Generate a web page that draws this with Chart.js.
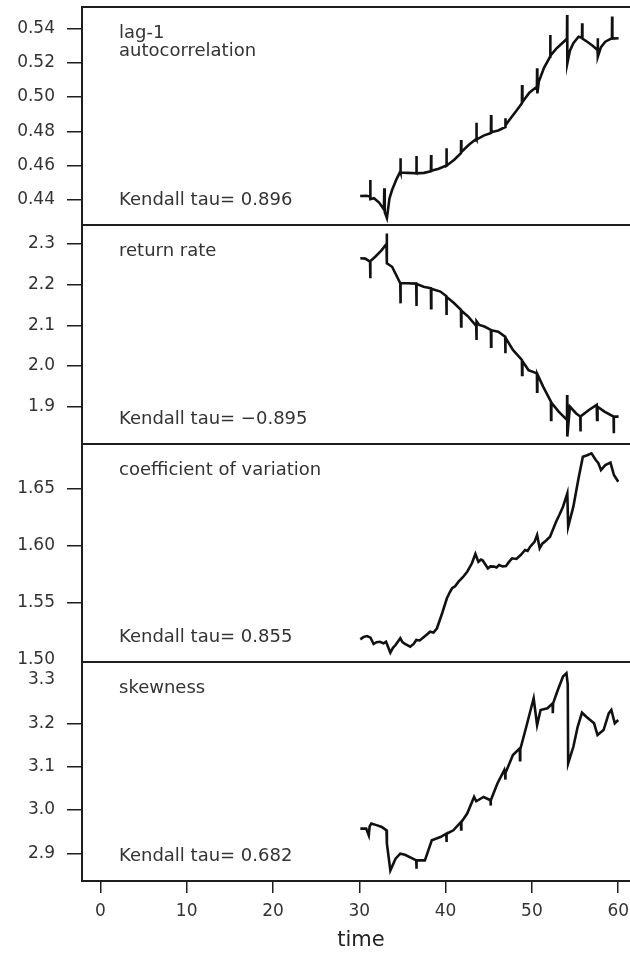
<!DOCTYPE html>
<html>
<head>
<meta charset="utf-8">
<script src="https://cdn.jsdelivr.net/npm/chart.js@4/dist/chart.umd.min.js"></script>
<style>
  html, body { margin: 0; padding: 0; background: #fff; overflow: hidden; width: 630px; height: 954px; }
  .panel { position: absolute; left: 0; top: 0; }
</style>
</head>
<body>
<canvas id="p1" class="panel" width="640" height="954"></canvas>
<canvas id="p2" class="panel" width="640" height="954"></canvas>
<canvas id="p3" class="panel" width="640" height="954"></canvas>
<canvas id="p4" class="panel" width="640" height="954"></canvas>
<script>
// ---- time axis ----
const timeTicks = [0, 10, 20, 30, 40, 50, 60];

// ---- lag-1 autocorrelation ----
const acTime = [30.1, 30.8, 31.25, 31.27, 31.3, 31.7, 32.3, 32.85, 32.9, 32.95, 33.2, 33.5, 33.8, 34.3, 34.75, 34.77, 34.8, 35.6, 36.6, 36.62, 36.65, 37.5, 38.3, 38.32, 38.35, 39.2, 40.08, 40.1, 40.13, 41.0, 41.78, 41.8, 41.83, 42.7, 43.55, 43.57, 43.6, 44.4, 45.25, 45.27, 45.3, 46.1, 46.9, 46.92, 46.95, 47.6, 48.2, 48.84, 48.86, 48.9, 49.7, 50.58, 50.6, 50.63, 50.8, 51.4, 52.1, 52.12, 52.15, 52.8, 53.5, 54.06, 54.08, 54.1, 54.4, 54.8, 55.4, 55.8, 55.82, 55.85, 56.4, 57.0, 57.6, 57.62, 57.65, 58.0, 58.5, 59.27, 59.29, 59.32, 60.04];
const acValue = [0.4423, 0.4425, 0.4420, 0.4517, 0.4405, 0.4410, 0.4385, 0.4345, 0.4468, 0.4330, 0.4295, 0.4410, 0.4458, 0.4520, 0.4565, 0.4643, 0.4560, 0.4558, 0.4556, 0.4656, 0.4555, 0.4558, 0.4568, 0.4662, 0.4570, 0.4582, 0.4600, 0.4701, 0.4600, 0.4635, 0.4672, 0.4749, 0.4680, 0.4722, 0.4755, 0.4850, 0.4752, 0.4775, 0.4790, 0.4895, 0.4795, 0.4805, 0.4825, 0.4876, 0.4835, 0.4880, 0.4920, 0.4963, 0.5070, 0.4970, 0.5025, 0.5060, 0.5167, 0.5021, 0.5090, 0.5170, 0.5234, 0.5361, 0.5240, 0.5280, 0.5313, 0.5340, 0.5478, 0.5196, 0.5270, 0.5313, 0.5351, 0.5345, 0.5429, 0.5340, 0.5322, 0.5300, 0.5274, 0.5342, 0.5235, 0.5290, 0.5322, 0.5342, 0.5468, 0.5340, 0.5342];
const acTicks = [0.44, 0.46, 0.48, 0.50, 0.52, 0.54];

// ---- return rate ----
const rrTime = [30.12, 30.7, 31.25, 31.27, 31.3, 31.85, 32.6, 33.15, 33.18, 33.21, 33.8, 34.75, 34.77, 34.8, 35.5, 36.6, 36.62, 36.65, 37.45, 38.3, 38.32, 38.35, 39.4, 40.08, 40.1, 40.13, 40.9, 41.78, 41.8, 41.83, 42.65, 43.55, 43.57, 43.6, 43.9, 44.5, 45.25, 45.27, 45.3, 46.1, 46.9, 46.92, 46.95, 47.8, 48.84, 48.86, 48.9, 49.6, 50.58, 50.6, 50.63, 51.3, 52.2, 52.22, 52.25, 53.1, 54.06, 54.08, 54.1, 54.4, 55.1, 55.6, 55.62, 55.65, 56.6, 57.5, 57.55, 57.6, 58.4, 59.46, 59.48, 59.5, 60.04];
const rrValue = [2.265, 2.264, 2.2565, 2.2157, 2.258, 2.2688, 2.285, 2.300, 2.326, 2.2526, 2.244, 2.2034, 2.154, 2.2034, 2.2034, 2.2026, 2.1477, 2.2020, 2.195, 2.191, 2.142, 2.190, 2.183, 2.172, 2.1256, 2.170, 2.156, 2.138, 2.097, 2.136, 2.121, 2.0985, 2.064, 2.110, 2.101, 2.097, 2.0887, 2.0477, 2.088, 2.0845, 2.072, 2.0314, 2.070, 2.0396, 2.015, 1.978, 2.012, 1.990, 1.982, 1.937, 1.980, 1.9494, 1.9125, 1.8676, 1.910, 1.888, 1.8676, 1.929, 1.8266, 1.9003, 1.884, 1.8757, 1.8388, 1.876, 1.892, 1.9044, 1.8676, 1.900, 1.888, 1.8757, 1.8348, 1.876, 1.8757];
const rrTicks = [1.9, 2.0, 2.1, 2.2, 2.3];

// ---- coefficient of variation ----
const cvTime = [30.12, 30.5, 30.9, 31.3, 31.66, 32.0, 32.4, 32.8, 33.1, 33.6, 33.9, 34.2, 34.75, 35.0, 35.3, 35.9, 36.3, 36.6, 37.0, 37.45, 37.8, 38.2, 38.6, 39.0, 39.6, 40.15, 40.5, 40.75, 41.1, 41.5, 42.0, 42.5, 43.05, 43.45, 43.8, 44.1, 44.3, 44.9, 45.2, 45.6, 45.9, 46.2, 46.6, 47.0, 47.3, 47.7, 48.2, 48.7, 49.2, 49.5, 49.8, 50.3, 50.6, 50.9, 51.2, 51.5, 52.1, 52.8, 53.2, 53.6, 54.1, 54.2, 54.8, 55.4, 55.9, 56.4, 56.9, 57.4, 57.7, 58.0, 58.5, 59.1, 59.5, 60.0];
const cvValue = [1.5175, 1.5195, 1.5204, 1.519, 1.5134, 1.5150, 1.5154, 1.5140, 1.5154, 1.5058, 1.5100, 1.5125, 1.5184, 1.5150, 1.5134, 1.511, 1.5135, 1.5169, 1.5165, 1.5193, 1.5215, 1.5242, 1.5235, 1.5272, 1.5404, 1.5535, 1.5590, 1.5623, 1.5640, 1.5681, 1.5720, 1.5768, 1.5842, 1.5924, 1.5856, 1.5875, 1.5866, 1.5798, 1.5815, 1.5813, 1.5805, 1.5827, 1.5815, 1.5818, 1.5850, 1.5886, 1.5880, 1.5915, 1.5959, 1.5950, 1.5988, 1.6030, 1.609, 1.5974, 1.6015, 1.6032, 1.6076, 1.6207, 1.6270, 1.6339, 1.6456, 1.6163, 1.6339, 1.6588, 1.6777, 1.6790, 1.6807, 1.6748, 1.6720, 1.666, 1.6704, 1.6725, 1.6617, 1.6558];
const cvTicks = [1.50, 1.55, 1.60, 1.65];

// ---- skewness ----
const skTime = [30.12, 30.8, 31.1, 31.2, 31.4, 32.0, 32.6, 33.15, 33.2, 33.6, 34.2, 34.75, 35.3, 36.2, 36.6, 36.62, 36.65, 37.6, 38.0, 38.4, 39.4, 40.08, 40.1, 40.13, 40.9, 41.78, 41.8, 41.83, 42.5, 43.3, 43.55, 44.4, 45.2, 45.22, 45.25, 46.0, 46.8, 46.9, 46.92, 46.95, 47.8, 48.6, 48.62, 48.65, 49.4, 50.2, 50.6, 51.0, 51.8, 52.4, 52.42, 52.45, 53.0, 53.6, 54.0, 54.15, 54.2, 54.8, 55.3, 55.8, 56.3, 57.2, 57.6, 58.3, 58.9, 59.2, 59.6, 60.0];
const skValue = [2.957, 2.957, 2.9414, 2.962, 2.9685, 2.965, 2.9607, 2.953, 2.922, 2.8604, 2.8875, 2.899, 2.8965, 2.8875, 2.8836, 2.8644, 2.8836, 2.8836, 2.9067, 2.930, 2.9375, 2.9454, 2.926, 2.945, 2.953, 2.9722, 2.955, 2.972, 2.9917, 3.030, 3.02, 3.030, 3.0225, 3.01, 3.0225, 3.0611, 3.092, 3.081, 3.07, 3.085, 3.1266, 3.1421, 3.115, 3.14, 3.196, 3.2578, 3.196, 3.2308, 3.2347, 3.246, 3.223, 3.246, 3.277, 3.308, 3.3157, 3.29, 3.1074, 3.1458, 3.192, 3.2245, 3.215, 3.200, 3.173, 3.1845, 3.223, 3.2308, 3.200, 3.2077];
const skTicks = [2.9, 3.0, 3.1, 3.2, 3.3];

// ---- panel descriptions ----
const panelTitles = [['lag-1', 'autocorrelation'], ['return rate'], ['coefficient of variation'], ['skewness']];
const kendallTau = ['Kendall tau= 0.896', 'Kendall tau= \u22120.895', 'Kendall tau= 0.855', 'Kendall tau= 0.682'];

const FONT = 'DejaVu Sans';
const INK = '#1e1e1e';
const TEXT = '#333';

// Writes the indicator name and Kendall statistic inside the panel and boxes it in.
const panelText = {
  id: 'panelText',
  afterDraw(chart, args, opts) {
    const { ctx, chartArea: a } = chart;
    ctx.save();
    ctx.fillStyle = TEXT;
    ctx.font = '18px "' + FONT + '"';
    ctx.textBaseline = 'middle';
    ctx.textAlign = 'left';
    opts.title.forEach((t, i) => ctx.fillText(t, a.left + 37, a.top + 26 + i * 18));
    ctx.fillText(opts.tau, a.left + 37, a.bottom - 25);
    ctx.strokeStyle = INK;
    ctx.lineWidth = 2;
    ctx.strokeRect(a.left, a.top, a.right - a.left, a.bottom - a.top);
    ctx.restore();
  }
};

function makePanel(id, times, values, ticks, digits, yMin, yMax, top, bottom, idx, showX, hideTicks) {
  const xScale = {
    type: 'linear', min: -2.12, max: 62.52, display: showX,
    afterBuildTicks: s => { s.ticks = timeTicks.map(v => ({ value: v })); },
    afterFit: s => { if (showX) s.height = 954 - bottom; },
    ticks: { font: { family: FONT, size: 17 }, color: TEXT, padding: 8, maxRotation: 0, autoSkip: false },
    grid: { drawOnChartArea: false, drawTicks: true, tickLength: 12, color: INK, lineWidth: 1.5 },
    border: { display: true, color: INK, width: 2 },
    title: { display: showX, text: 'time', color: '#222', font: { family: FONT, size: 21 }, padding: { top: 0, bottom: 1 } }
  };
  return new Chart(document.getElementById(id), {
    type: 'line',
    data: {
      datasets: [{
        data: times.map((t, i) => ({ x: t, y: values[i] })),
        borderColor: '#111',
        borderWidth: 2.6,
        pointRadius: 0,
        tension: 0,
        fill: false
      }]
    },
    options: {
      responsive: false,
      animation: false,
      events: [],
      layout: { padding: { top: top, bottom: showX ? 0 : 954 - bottom, left: 0, right: 0 } },
      plugins: {
        legend: { display: false },
        tooltip: { enabled: false },
        panelText: { title: panelTitles[idx], tau: kendallTau[idx] }
      },
      scales: {
        x: xScale,
        y: {
          type: 'linear', min: yMin, max: yMax,
          afterBuildTicks: s => { s.ticks = ticks.map(v => ({ value: v })); },
          // fixed axis width; edge labels may overhang the panel without pushing it
          afterFit: s => { s.width = 82; s.paddingTop = 0; s.paddingBottom = 0; },
          ticks: { callback: v => v.toFixed(digits), font: { family: FONT, size: 17 }, color: TEXT, padding: 12, autoSkip: false },
          grid: {
            drawOnChartArea: false, drawTicks: true, tickLength: 15, lineWidth: 1.5,
            tickColor: c => (c.tick && hideTicks.includes(c.tick.value)) ? 'rgba(0,0,0,0)' : INK
          },
          border: { display: true, color: INK, width: 2 }
        }
      }
    },
    plugins: [panelText]
  });
}

makePanel('p1', acTime, acValue, acTicks, 2, 0.42544, 0.55241, 7, 225, 0, false, []);
makePanel('p2', rrTime, rrValue, rrTicks, 1, 1.8083, 2.3467, 225, 444, 1, false, []);
makePanel('p3', cvTime, cvValue, cvTicks, 2, 1.4976, 1.6889, 444, 662, 2, false, [1.5]);
makePanel('p4', skTime, skValue, skTicks, 1, 2.836, 3.3415, 662, 881, 3, true, [3.3]);
</script>
</body>
</html>
